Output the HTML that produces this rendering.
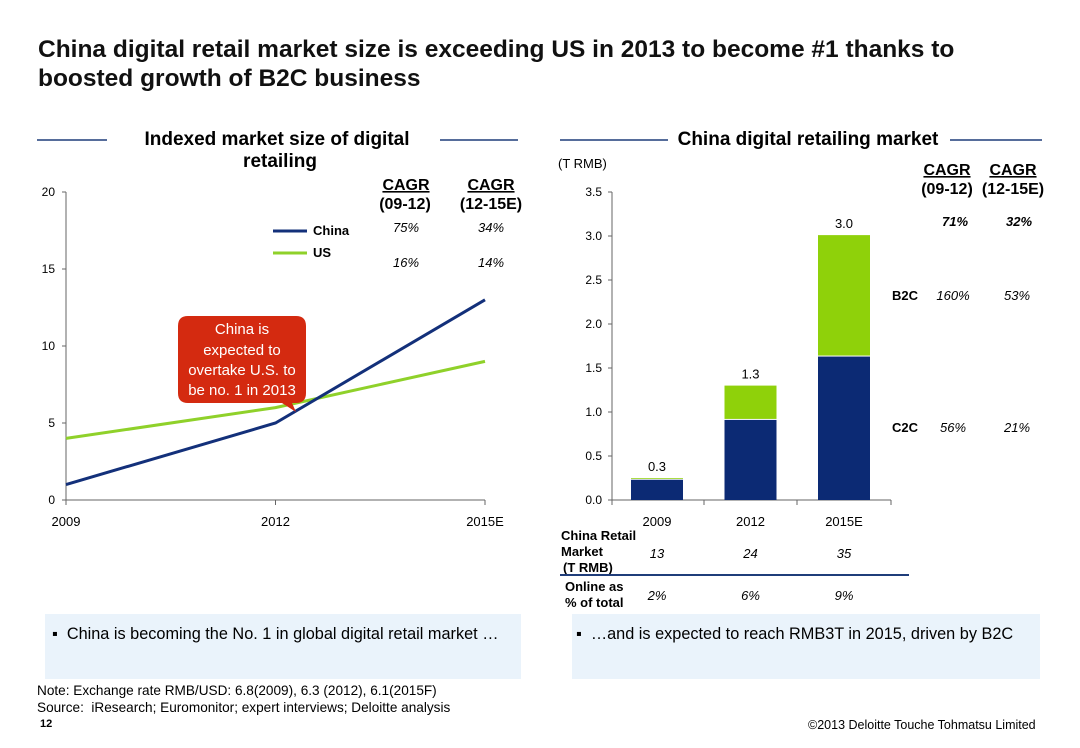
<!DOCTYPE html>
<html><head><meta charset="utf-8"><style>
body{margin:0;width:1080px;height:748px;background:#fff;font-family:"Liberation Sans",Arial,sans-serif;overflow:hidden;position:relative}
.a{position:absolute}
</style></head><body>
<div class="a" style="left:38px;top:35px;font-size:24.5px;font-weight:bold;line-height:29px;color:#111;white-space:nowrap">China digital retail market size is exceeding US in 2013 to become #1 thanks to<br>boosted growth of B2C business</div>
<div class="a" style="left:45px;top:614px;width:476px;height:65px;background:#eaf3fb"></div>
<div class="a" style="left:572px;top:614px;width:468px;height:65px;background:#eaf3fb"></div>
<div class="a" style="left:52px;top:625px;font-size:16.3px;white-space:nowrap">▪&nbsp; China is becoming the No. 1 in global digital retail market …</div>
<div class="a" style="left:576px;top:625px;font-size:16.3px;white-space:nowrap">▪&nbsp; …and is expected to reach RMB3T in 2015, driven by B2C</div>
<div class="a" style="left:37px;top:682px;font-size:13.6px;line-height:17px;white-space:nowrap">Note: Exchange rate RMB/USD: 6.8(2009), 6.3 (2012), 6.1(2015F)<br>Source:&nbsp; iResearch; Euromonitor; expert interviews; Deloitte analysis</div>
<div class="a" style="left:40px;top:718px;font-size:11px;font-weight:bold">12</div>
<div class="a" style="left:808px;top:718px;font-size:12.5px;white-space:nowrap">©2013 Deloitte Touche Tohmatsu Limited</div>
<svg class="a" style="left:0;top:0" width="1080" height="748" font-family="Liberation Sans, Arial, sans-serif" id="svg">
<g>
<line x1="37" y1="140" x2="107" y2="140" stroke="#1f3d7a" stroke-width="1.5"/>
<line x1="440" y1="140" x2="518" y2="140" stroke="#1f3d7a" stroke-width="1.5"/>
<text x="277" y="145" font-size="19" font-weight="bold" text-anchor="middle">Indexed market size of digital</text>
<text x="280" y="167" font-size="19" font-weight="bold" text-anchor="middle">retailing</text>
</g>
<g>
<line x1="560" y1="140" x2="668" y2="140" stroke="#1f3d7a" stroke-width="1.5"/>
<line x1="950" y1="140" x2="1042" y2="140" stroke="#1f3d7a" stroke-width="1.5"/>
<text x="808" y="145" font-size="19" font-weight="bold" text-anchor="middle">China digital retailing market</text>
</g>
<g id="left"></g><g id="right"></g>
<g font-size="16" font-weight="bold" text-anchor="middle">
<text x="406" y="190" text-decoration="underline">CAGR</text><text x="405" y="209">(09-12)</text>
<text x="491" y="190" text-decoration="underline">CAGR</text><text x="491" y="209">(12-15E)</text>
</g>
<g font-size="13" font-style="italic" text-anchor="middle">
<text x="406" y="232">75%</text><text x="491" y="232">34%</text>
<text x="406" y="267">16%</text><text x="491" y="267">14%</text>
</g>
<g font-size="13" font-weight="bold">
<line x1="273" y1="231" x2="307" y2="231" stroke="#13307a" stroke-width="3"/><text x="313" y="235">China</text>
<line x1="273" y1="253" x2="307" y2="253" stroke="#8fd12a" stroke-width="3"/><text x="313" y="257">US</text>
</g>
<g font-size="16" font-weight="bold" text-anchor="middle">
<text x="947" y="175" text-decoration="underline">CAGR</text><text x="947" y="194">(09-12)</text>
<text x="1013" y="175" text-decoration="underline">CAGR</text><text x="1013" y="194">(12-15E)</text>
</g>
<g font-size="13" font-style="italic" text-anchor="middle">
<text x="955" y="226" font-weight="bold">71%</text><text x="1019" y="226" font-weight="bold">32%</text>
<text x="953" y="300">160%</text><text x="1017" y="300">53%</text>
<text x="953" y="432">56%</text><text x="1017" y="432">21%</text>
</g>
<g font-size="13" font-weight="bold">
<text x="892" y="300">B2C</text><text x="892" y="432">C2C</text>
</g>
<text x="558" y="168" font-size="13">(T RMB)</text>
<g font-size="13" font-weight="bold">
<text x="561" y="540">China Retail</text><text x="561" y="556">Market</text><text x="563" y="572">(T RMB)</text>
<text x="565" y="591">Online as</text><text x="565" y="607">% of total</text>
</g>
<line x1="560" y1="575" x2="909" y2="575" stroke="#1f3d7a" stroke-width="2"/>
<g id="tbl" font-size="13" font-style="italic" text-anchor="middle"></g>
<g>
<path d="M188 316 H296 Q306 316 306 326 V393 Q306 403 296 403 H292 L296 412 L282 403 H188 Q178 403 178 393 V326 Q178 316 188 316Z" fill="#d42a10"/>
<g fill="#fff" font-size="15" text-anchor="middle"><text x="242" y="334">China is</text><text x="242" y="355">expected to</text><text x="242" y="375">overtake U.S. to</text><text x="242" y="395">be no. 1 in 2013</text></g>
</g>
</svg>
<script>
const lineYears=["2009","2012","2015E"];
const chinaIdx=[1,5,13];
const usIdx=[4,6,9];
const leftTicks=[0,5,10,15,20];
const barYears=["2009","2012","2015E"];
const c2c=[0.23,0.91,1.63];
const b2c=[0.02,0.39,1.38];
const totals=["0.3","1.3","3.0"];
const rightTicks=["0.0","0.5","1.0","1.5","2.0","2.5","3.0","3.5"];
const retailMarket=["13","24","35"];
const onlineShare=["2%","6%","9%"];
const NS="http://www.w3.org/2000/svg";
function mk(p,t,a){const e=document.createElementNS(NS,t);for(const k in a)e.setAttribute(k,a[k]);p.appendChild(e);return e;}
const L=document.getElementById('left');
const lx=i=>66+i*(485-66)/(lineYears.length-1), ly=v=>500-v*(308/20);
mk(L,'line',{x1:66,y1:192,x2:66,y2:500,stroke:'#666'});
mk(L,'line',{x1:66,y1:500,x2:485,y2:500,stroke:'#666'});
leftTicks.forEach(v=>{mk(L,'line',{x1:62,y1:ly(v),x2:66,y2:ly(v),stroke:'#666'});const t=mk(L,'text',{x:55,y:ly(v)+4,'font-size':12,'text-anchor':'end'});t.textContent=v;

});
lineYears.forEach((y,i)=>{mk(L,'line',{x1:lx(i),y1:500,x2:lx(i),y2:505,stroke:'#666'});const t=mk(L,'text',{x:lx(i),y:526,'font-size':13,'text-anchor':'middle'});t.textContent=y;

});
const us=mk(L,'polyline',{points:usIdx.map((v,i)=>lx(i)+','+ly(v)).join(' '),fill:'none',stroke:'#8fd12a','stroke-width':3});


const cn=mk(L,'polyline',{points:chinaIdx.map((v,i)=>lx(i)+','+ly(v)).join(' '),fill:'none',stroke:'#13307a','stroke-width':3});


const R=document.getElementById('right');
const ry=v=>500-v*(308/3.5), bx=i=>657+i*93.5;
mk(R,'line',{x1:612,y1:192,x2:612,y2:500,stroke:'#666'});
mk(R,'line',{x1:612,y1:500,x2:891,y2:500,stroke:'#666'});
rightTicks.forEach(s=>{const v=parseFloat(s);mk(R,'line',{x1:608,y1:ry(v),x2:612,y2:ry(v),stroke:'#666'});const t=mk(R,'text',{x:602,y:ry(v)+4,'font-size':12,'text-anchor':'end'});t.textContent=s;

});
[612,704,797,891].forEach(x=>mk(R,'line',{x1:x,y1:500,x2:x,y2:505,stroke:'#666'}));
barYears.forEach((y,i)=>{
const x=bx(i)-26;
const r1=mk(R,'rect',{x:x,y:ry(c2c[i]),width:52,height:ry(0)-ry(c2c[i]),fill:'#0c2a74'});


const r2=mk(R,'rect',{x:x,y:ry(c2c[i]+b2c[i]),width:52,height:ry(c2c[i])-ry(c2c[i]+b2c[i])-1,fill:'#8fd10a'});


const t=mk(R,'text',{x:bx(i),y:ry(c2c[i]+b2c[i])-7,'font-size':13,'text-anchor':'middle'});t.textContent=totals[i];


const xt=mk(R,'text',{x:bx(i),y:526,'font-size':13,'text-anchor':'middle'});xt.textContent=y;


});
const T=document.getElementById('tbl');
barYears.forEach((y,i)=>{const a=mk(T,'text',{x:bx(i),y:558});a.textContent=retailMarket[i];


const b=mk(T,'text',{x:bx(i),y:600});b.textContent=onlineShare[i];

});
</script>
</body></html>
